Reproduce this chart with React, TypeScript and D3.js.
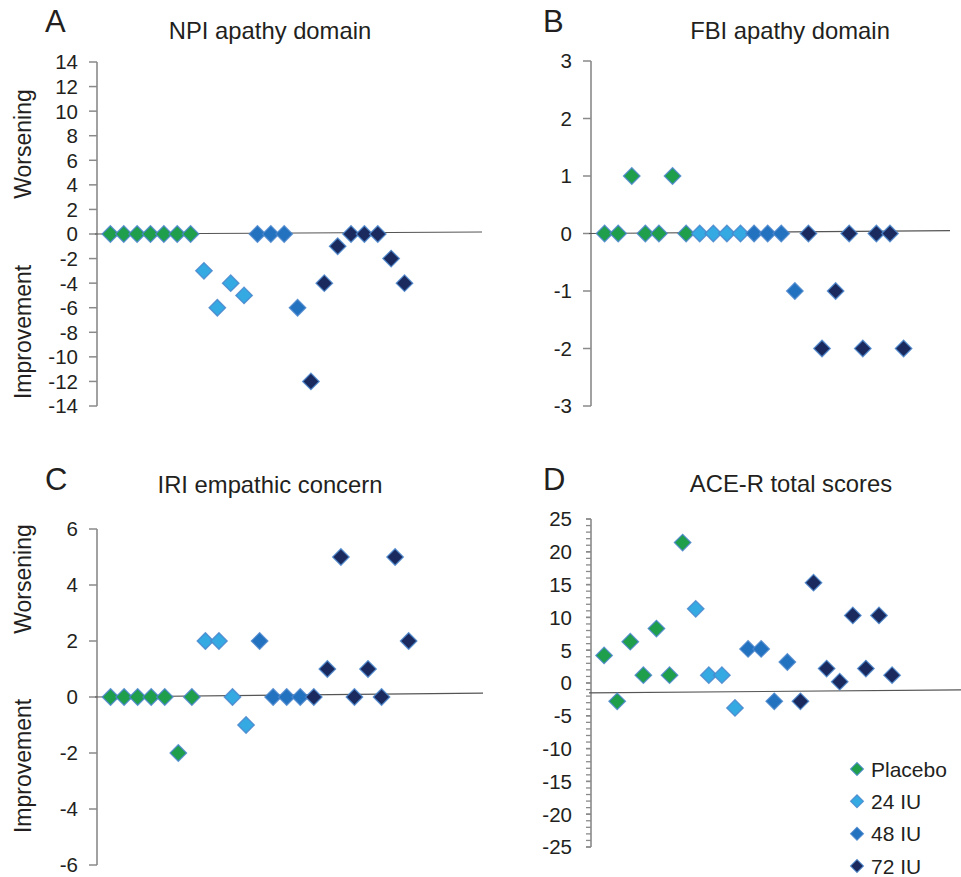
import React from "react";
import * as d3 from "d3";

// ---------- data ----------
const groupNames = ["Placebo", "24 IU", "48 IU", "72 IU"];
const groupColors = ["#1f9e4c", "#35a9e2", "#2272c0", "#1b2a5e"];

const npiPlacebo = [0, 0, 0, 0, 0, 0, 0];
const npi24 = [-3, -6, -4, -5];
const npi48 = [0, 0, 0, -6];
const npi72 = [-12, -4, -1, 0, 0, 0, -2, -4];

const fbiPlacebo = [0, 0, 1, 0, 0, 1, 0];
const fbi24 = [0, 0, 0, 0];
const fbi48 = [0, 0, 0, -1];
const fbi72 = [0, -2, -1, 0, -2, 0, 0, -2];

const iriPlacebo = [0, 0, 0, 0, 0, -2, 0];
const iri24 = [2, 2, 0, -1];
const iri48 = [2, 0, 0, 0];
const iri72 = [0, 1, 5, 0, 1, 0, 5, 2];

const acePlacebo = [4.2, -2.8, 6.3, 1.2, 8.3, 1.2, 21.4];
const ace24 = [11.3, 1.2, 1.2, -3.8];
const ace48 = [5.2, 5.2, -2.8, 3.2];
const ace72 = [-2.8, 15.3, 2.2, 0.2, 10.3, 2.2, 10.3, 1.2];

const npiTicks = d3.range(-14, 15, 2);
const fbiTicks = d3.range(-3, 4, 1);
const iriTicks = d3.range(-6, 7, 2);
const aceTicks = d3.range(-25, 26, 5);
const aceMinorTicks = d3.range(-25, 26, 1);

// reference line values at left / right end
const npiRef = [0, 0.16];
const fbiRef = [0, 0.05];
const iriRef = [0, 0.14];
const aceRef = [-1.5, -1.05];

// ---------- layout ----------
const FONT = "'Liberation Sans', Arial, Helvetica, sans-serif";
const TEXT = "#231f20";
const AXIS = "#8a8a8a";

type Panel = {
  letter: string;
  title: string;
  groups: number[][];
  ticks: number[];
  minor?: number[];
  ref: number[];
  domain: [number, number];
  axisX: number;
  yTop: number;
  yBot: number;
  step: number;
  lineEnd: number;
  titleX: number;
  titleY: number;
  letterX: number;
  letterY: number;
  sideLabels?: { worse: number; improve: number };
};

const panels: Panel[] = [
  {
    letter: "A", title: "NPI apathy domain",
    groups: [npiPlacebo, npi24, npi48, npi72], ticks: npiTicks, ref: npiRef,
    domain: [-14, 14], axisX: 97, yTop: 62, yBot: 406, step: 13.37, lineEnd: 482,
    titleX: 270, titleY: 39, letterX: 45, letterY: 32,
    sideLabels: { worse: 144, improve: 332 },
  },
  {
    letter: "B", title: "FBI apathy domain",
    groups: [fbiPlacebo, fbi24, fbi48, fbi72], ticks: fbiTicks, ref: fbiRef,
    domain: [-3, 3], axisX: 591, yTop: 61, yBot: 406, step: 13.59, lineEnd: 950,
    titleX: 790, titleY: 39, letterX: 543, letterY: 32,
  },
  {
    letter: "C", title: "IRI empathic concern",
    groups: [iriPlacebo, iri24, iri48, iri72], ticks: iriTicks, ref: iriRef,
    domain: [-6, 6], axisX: 97, yTop: 529, yBot: 865, step: 13.55, lineEnd: 483,
    titleX: 270, titleY: 493, letterX: 45, letterY: 490,
    sideLabels: { worse: 579, improve: 766 },
  },
  {
    letter: "D", title: "ACE-R total scores",
    groups: [acePlacebo, ace24, ace48, ace72], ticks: aceTicks, minor: aceMinorTicks, ref: aceRef,
    domain: [-25, 25], axisX: 591, yTop: 519, yBot: 847, step: 13.09, lineEnd: 961,
    titleX: 791, titleY: 492, letterX: 543, letterY: 490,
  },
];

const markerPath = d3.symbol(d3.symbolSquare, 136)()!;
const legendPath = d3.symbol(d3.symbolSquare, 84)()!;

function PanelView({ p }: { p: Panel }) {
  const y = d3.scaleLinear().domain(p.domain).range([p.yBot, p.yTop]);
  const n = p.groups.reduce((s, g) => s + g.length, 0);
  const x = d3.scaleLinear().domain([0, n]).range([p.axisX, p.axisX + n * p.step]);
  const pts: { i: number; v: number; g: number }[] = [];
  let k = 1;
  p.groups.forEach((g, gi) => g.forEach((v) => pts.push({ i: k++, v, g: gi })));
  const tickLen = p.minor ? 5 : 8;
  return (
    <g>
      <text x={p.letterX} y={p.letterY} fontSize={31} fill={TEXT} fontFamily={FONT}>{p.letter}</text>
      <text x={p.titleX} y={p.titleY} fontSize={23.8} fill={TEXT} fontFamily={FONT} textAnchor="middle">{p.title}</text>
      {p.sideLabels && (
        <g fontSize={23} fill={TEXT} fontFamily={FONT} textAnchor="middle">
          <text transform={`translate(31,${p.sideLabels.worse}) rotate(-90)`}>Worsening</text>
          <text transform={`translate(31,${p.sideLabels.improve}) rotate(-90)`}>Improvement</text>
        </g>
      )}
      <line x1={p.axisX} x2={p.axisX} y1={y(p.domain[1])} y2={y(p.domain[0])} stroke={AXIS} strokeWidth={1.6} />
      {(p.minor || []).map((t) => (
        <line key={"m" + t} x1={p.axisX - 5} x2={p.axisX} y1={y(t)} y2={y(t)} stroke={AXIS} strokeWidth={1.3} />
      ))}
      {p.ticks.map((t) => (
        <g key={t}>
          <line x1={p.axisX - tickLen} x2={p.axisX} y1={y(t)} y2={y(t)} stroke={AXIS} strokeWidth={1.5} />
          <text x={p.axisX - 19} y={y(t)} dy="0.36em" textAnchor="end" fontSize={20.5} fill={TEXT} fontFamily={FONT}>{t}</text>
        </g>
      ))}
      <line x1={p.axisX - 2} x2={p.lineEnd} y1={y(p.ref[0])} y2={y(p.ref[1])} stroke="#555" strokeWidth={1.1} />
      {pts.map((d) => (
        <path key={d.i} d={markerPath} transform={`translate(${x(d.i)},${y(d.v)}) rotate(45)`}
          fill={groupColors[d.g]} stroke="#4a86cc" strokeOpacity={0.85} strokeWidth={1.3} />
      ))}
    </g>
  );
}

export default function App() {
  const legendY = d3.scaleLinear().domain([0, 3]).range([769, 866]);
  return (
    <svg width={961} height={877} style={{ position: "absolute", left: 0, top: 0, background: "#fff" }}>
      <rect width={961} height={877} fill="#fff" />
      {panels.map((p) => <PanelView key={p.letter} p={p} />)}
      <g fontFamily={FONT} fontSize={21} fill={TEXT}>
        {groupNames.map((name, i) => (
          <g key={name} transform={`translate(857,${legendY(i)})`}>
            <path d={legendPath} transform="rotate(45)" fill={groupColors[i]} stroke="#4a86cc" strokeOpacity={0.85} strokeWidth={1.1} />
            <text x={14} dy="0.36em">{name}</text>
          </g>
        ))}
      </g>
    </svg>
  );
}
